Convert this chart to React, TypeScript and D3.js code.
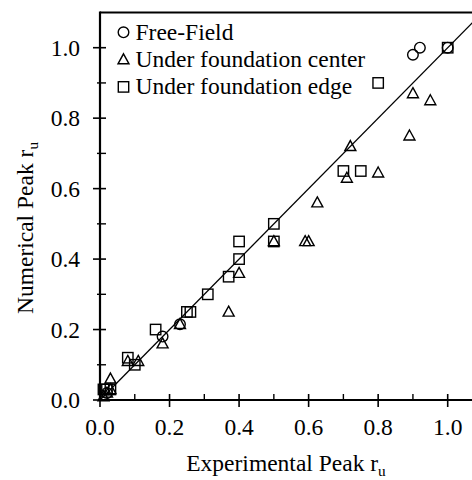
import React from "react";
import * as d3 from "d3";

const freeField: [number, number][] = [
  [1.0, 1.0], [0.90, 0.98], [0.92, 1.0], [0.18, 0.18], [0.23, 0.215], [0.02, 0.02],
];
const underCenter: [number, number][] = [
  [0.90, 0.87], [0.95, 0.85], [0.89, 0.75], [0.72, 0.72], [0.71, 0.63], [0.80, 0.645],
  [0.625, 0.56], [0.50, 0.45], [0.59, 0.45], [0.60, 0.45], [0.40, 0.36], [0.37, 0.25],
  [0.23, 0.215], [0.18, 0.16], [0.08, 0.11], [0.11, 0.11], [0.03, 0.06], [0.02, 0.02],
  [0.03, 0.03], [0.01, 0.01],
];
const underEdge: [number, number][] = [
  [1.0, 1.0], [0.80, 0.90], [0.70, 0.65], [0.75, 0.65], [0.50, 0.50], [0.50, 0.45],
  [0.40, 0.45], [0.40, 0.40], [0.37, 0.35], [0.31, 0.30], [0.25, 0.25], [0.26, 0.25],
  [0.16, 0.20], [0.08, 0.12], [0.10, 0.10], [0.01, 0.03], [0.03, 0.03], [0.02, 0.03],
];
const majorTicks = [0, 0.2, 0.4, 0.6, 0.8, 1.0];
const minorTicks = [0.1, 0.3, 0.5, 0.7, 0.9];
const legendLabels = ["Free-Field", "Under foundation center", "Under foundation edge"];

const W = 472, H = 480;
const FS = 23.5;
const TXT: React.CSSProperties = { fontFamily: "'Liberation Serif', 'Times New Roman', Times, serif" };

const x = d3.scaleLinear().domain([0, 1.08]).range([100, 100 + 1.08 * 347.7]);
const y = d3.scaleLinear().domain([0, 1.1]).range([400, 400 - 1.1 * 352.3]);

function Marker({ kind, cx, cy }: { kind: string; cx: number; cy: number }) {
  const st = { fill: "none", stroke: "#000", strokeWidth: 1.4 };
  if (kind === "circle") return <circle cx={cx} cy={cy} r={5.3} {...st} />;
  if (kind === "square") return <rect x={cx - 5.2} y={cy - 5.2} width={10.4} height={10.4} {...st} />;
  const p = d3.path();
  p.moveTo(cx, cy - 5.8);
  p.lineTo(cx + 5.5, cy + 4.2);
  p.lineTo(cx - 5.5, cy + 4.2);
  p.closePath();
  return <path d={p.toString()} {...st} />;
}

export default function App() {
  const x0 = x(0), y0 = y(0);
  const xMax = x.range()[1];
  const yTop = y(1.1);
  const line = d3.line<number>().x((v) => x(v)).y((v) => y(v));
  const series: { kind: string; data: [number, number][] }[] = [
    { kind: "circle", data: freeField },
    { kind: "triangle", data: underCenter },
    { kind: "square", data: underEdge },
  ];
  return (
    <svg width={W} height={H} style={{ position: "absolute", left: 0, top: 0, background: "#fff" }}>
      <rect width={W} height={H} fill="#fff" />
      <line x1={x0} x2={xMax} y1={yTop} y2={yTop} stroke="#000" strokeWidth={2} />
      <line x1={xMax} x2={xMax} y1={yTop} y2={y0} stroke="#000" strokeWidth={2} />
      <path d={line([0, 1.08]) || ""} fill="none" stroke="#000" strokeWidth={1.3} />
      {series.map((s) =>
        s.data.map((d, i) => <Marker key={s.kind + i} kind={s.kind} cx={x(d[0])} cy={y(d[1])} />)
      )}
      <line x1={x0} x2={xMax} y1={y0} y2={y0} stroke="#000" strokeWidth={2.2} />
      <line x1={x0} x2={x0} y1={yTop - 1} y2={y0 + 1} stroke="#000" strokeWidth={2.2} />
      {majorTicks.map((t) => (
        <g key={"mx" + t}>
          <line x1={x(t)} x2={x(t)} y1={y0 - 6} y2={y0 + 7} stroke="#000" strokeWidth={1.6} />
          <text style={TXT} x={x(t)} y={435} textAnchor="middle" fontSize={FS}>{t.toFixed(1)}</text>
          <line x1={x0 - 7} x2={x0 + 6} y1={y(t)} y2={y(t)} stroke="#000" strokeWidth={1.6} />
          <text style={TXT} x={80} y={y(t) + 8} textAnchor="end" fontSize={FS}>{t.toFixed(1)}</text>
        </g>
      ))}
      {minorTicks.map((t) => (
        <g key={"mn" + t}>
          <line x1={x(t)} x2={x(t)} y1={y0 - 6} y2={y0} stroke="#000" strokeWidth={1.4} />
          <line x1={x0 - 3} x2={x0 + 6} y1={y(t)} y2={y(t)} stroke="#000" strokeWidth={1.4} />
        </g>
      ))}
      <text style={TXT} x={(x0 + 472) / 2} y={471} textAnchor="middle" fontSize={FS}>
        Experimental Peak r<tspan fontSize={FS * 0.65} dy={5}>u</tspan>
      </text>
      <text style={TXT} transform={`translate(33,228) rotate(-90)`} textAnchor="middle" fontSize={FS}>
        Numerical Peak r<tspan fontSize={FS * 0.65} dy={5}>u</tspan>
      </text>
      {legendLabels.map((lab, i) => (
        <g key={lab}>
          <Marker kind={series[i].kind} cx={123.5} cy={32.3 + i * 27.3} />
          <text style={TXT} x={135.5} y={39.5 + i * 27.3} fontSize={FS}>{lab}</text>
        </g>
      ))}
    </svg>
  );
}
